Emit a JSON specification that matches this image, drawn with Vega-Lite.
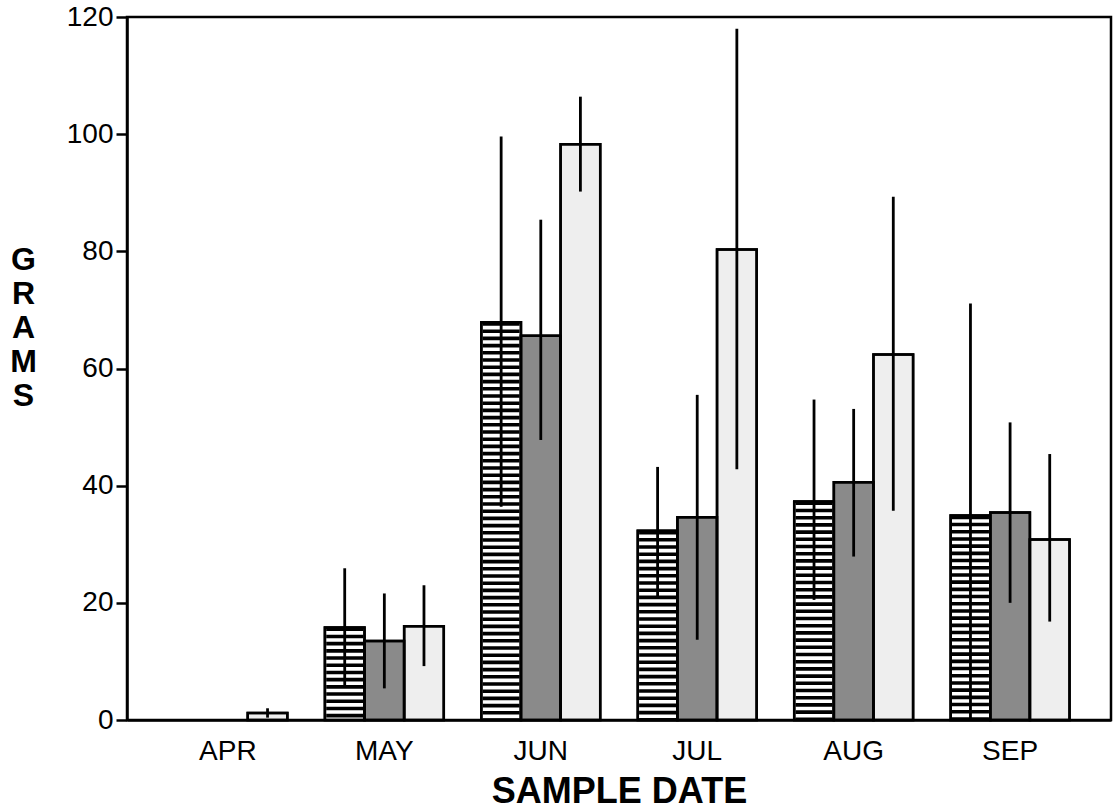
{
  "$schema": "https://vega.github.io/schema/vega-lite/v6.json",
  "width": 984,
  "height": 703,
  "autosize": {"type": "none"},
  "padding": {"left": 127, "top": 17, "right": 2, "bottom": 90},
  "background": "white",
  "config": {
    "view": {"stroke": "black", "strokeWidth": 2.5},
    "font": "Liberation Sans"
  },
  "data": {
    "values": [
      {"month": "APR", "group": "C", "value": 1.2, "lo": 0.4, "hi": 2.0},
      {"month": "MAY", "group": "A", "value": 15.8, "lo": 5.7, "hi": 25.9},
      {"month": "MAY", "group": "B", "value": 13.5, "lo": 5.4, "hi": 21.6},
      {"month": "MAY", "group": "C", "value": 16.0, "lo": 9.2, "hi": 23.0},
      {"month": "JUN", "group": "A", "value": 67.9, "lo": 36.4, "hi": 99.6},
      {"month": "JUN", "group": "B", "value": 65.6, "lo": 47.8, "hi": 85.4},
      {"month": "JUN", "group": "C", "value": 98.3, "lo": 90.2, "hi": 106.4},
      {"month": "JUL", "group": "A", "value": 32.3, "lo": 21.0, "hi": 43.2},
      {"month": "JUL", "group": "B", "value": 34.6, "lo": 13.7, "hi": 55.5},
      {"month": "JUL", "group": "C", "value": 80.3, "lo": 42.8, "hi": 118.0},
      {"month": "AUG", "group": "A", "value": 37.3, "lo": 20.5, "hi": 54.7},
      {"month": "AUG", "group": "B", "value": 40.6, "lo": 27.9, "hi": 53.1},
      {"month": "AUG", "group": "C", "value": 62.4, "lo": 35.7, "hi": 89.3},
      {"month": "SEP", "group": "A", "value": 34.9, "lo": 0, "hi": 71.1},
      {"month": "SEP", "group": "B", "value": 35.4, "lo": 20.0, "hi": 50.8},
      {"month": "SEP", "group": "C", "value": 30.8, "lo": 16.8, "hi": 45.4}
    ]
  },
  "encoding": {
    "x": {
      "field": "month",
      "type": "nominal",
      "sort": ["APR", "MAY", "JUN", "JUL", "AUG", "SEP"],
      "scale": {"domain": ["APR", "MAY", "JUN", "JUL", "AUG", "SEP"], "paddingInner": 0.24, "paddingOuter": 0.265},
      "axis": {
        "title": "SAMPLE DATE",
        "titleFont": "Liberation Sans",
        "titleFontSize": 36,
        "titleFontWeight": "bold",
        "titleColor": "black",
        "titleY": 82,
        "titleBaseline": "alphabetic",
        "ticks": false,
        "labelAngle": 0,
        "labelPadding": 17,
        "labelFont": "Liberation Sans",
        "labelFontSize": 28,
        "labelColor": "black",
        "domainColor": "black",
        "domainWidth": 2.5
      }
    },
    "xOffset": {
      "field": "group",
      "type": "nominal",
      "scale": {"domain": ["A", "B", "C"], "paddingInner": 0, "paddingOuter": 0}
    }
  },
  "layer": [
    {
      "mark": {"type": "bar", "stroke": "black", "strokeWidth": 2.5},
      "encoding": {
        "y": {
          "field": "value",
          "type": "quantitative",
          "scale": {"domain": [0, 120], "nice": false},
          "axis": {
            "title": ["G", "R", "A", "M", "S"],
            "titleAngle": 0,
            "titleX": -104,
            "titleY": 227,
            "titleAlign": "center",
            "titleBaseline": "top",
            "titleFont": "Liberation Sans",
            "titleFontSize": 32,
            "titleFontWeight": "bold",
            "titleLineHeight": 34,
            "titleColor": "black",
            "values": [0, 20, 40, 60, 80, 100, 120],
            "ticks": true,
            "tickSize": 11,
            "tickColor": "black",
            "tickWidth": 2.5,
            "grid": false,
            "domainColor": "black",
            "domainWidth": 2.5,
            "labelFont": "Liberation Sans",
            "labelFontSize": 28,
            "labelColor": "black",
            "labelPadding": 3
          }
        },
        "fill": {
          "field": "group",
          "type": "nominal",
          "scale": {"domain": ["A", "B", "C"], "range": ["#ffffff", "#8a8a8a", "#eeeeee"]},
          "legend": null
        }
      }
    },
    {
      "transform": [{"filter": "datum.group === 'A'"}],
      "mark": {"type": "rule", "strokeWidth": 37, "strokeDash": [3.6, 3.6], "strokeCap": "butt", "color": "black"},
      "encoding": {
        "y": {"field": "value", "type": "quantitative"},
        "y2": {"datum": 0}
      }
    },
    {
      "mark": {"type": "bar", "fill": "transparent", "stroke": "black", "strokeWidth": 2.5},
      "encoding": {
        "y": {"field": "value", "type": "quantitative"}
      }
    },
    {
      "mark": {"type": "rule", "strokeWidth": 2.8, "color": "black"},
      "encoding": {
        "y": {"field": "lo", "type": "quantitative"},
        "y2": {"field": "hi"}
      }
    }
  ]
}
